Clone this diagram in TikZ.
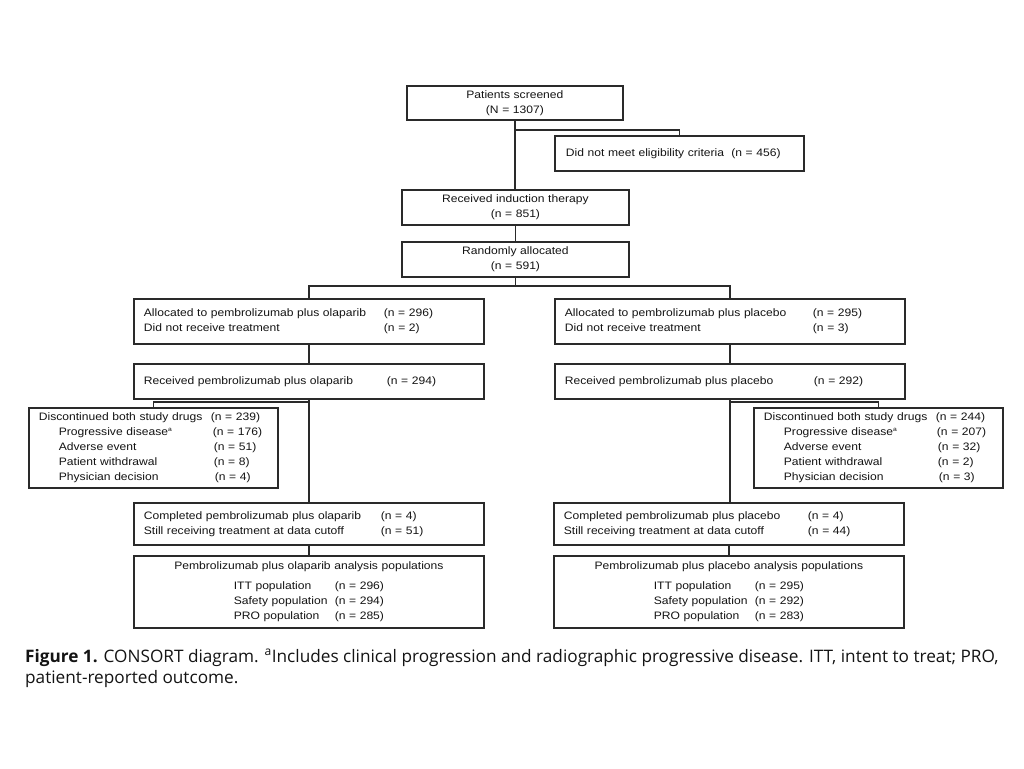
\documentclass[tikz,border=0pt]{standalone}
\usepackage{fontspec}
\setmainfont[FakeStretch=1.12]{Liberation Sans}
\newfontfamily\capfont{Open Sans}
\definecolor{lineclr}{HTML}{2A2A2A}
\definecolor{txtclr}{HTML}{141414}
\newcommand{\rw}[3]{\makebox[#1][l]{#2}#3}
\begin{document}
\begin{tikzpicture}[x=1pt,y=-1pt,
  box/.style={draw=lineclr, line width=1.8pt, anchor=north west, inner xsep=10pt, inner ysep=0pt,
    text=txtclr, font=\fontsize{10.8}{15}\selectfont, align=left},
  cbox/.style={box, align=center},
  conn/.style={draw=lineclr, line width=1.8pt}]
\useasboundingbox (0,0) rectangle (1024,768);
\fill[white] (0,0) rectangle (1024,768);

% top chain
\node[cbox, text width=196pt, minimum height=34pt] (screen) at (406,85) {Patients screened\\(N = 1307)};
\node[box, text width=229pt, minimum height=35pt] (elig) at (554,135) {\hspace*{1pt}Did not meet eligibility criteria~ (n = 456)};
\node[cbox, text width=207pt, minimum height=35pt] (induct) at (401,189) {Received induction therapy\\(n = 851)};
\node[cbox, text width=207pt, minimum height=35pt] (rand) at (401,241) {Randomly allocated\\(n = 591)};

% left arm
\node[box, text width=330pt, minimum height=45pt] (allocL) at (133,298)
  {\rw{240pt}{Allocated to pembrolizumab plus olaparib}{(n = 296)}\\\rw{240pt}{Did not receive treatment}{(n = 2)}};
\node[box, text width=330pt, minimum height=35pt] (recL) at (133,363)
  {\rw{243pt}{Received pembrolizumab plus olaparib}{(n = 294)}};
\node[box, text width=229pt, minimum height=80pt] (discL) at (28,407)
  {\rw{172pt}{Discontinued both study drugs}{(n = 239)}\\
   \hspace*{20pt}\rw{154pt}{Progressive disease\textsuperscript{\fontsize{6}{6}\selectfont a}}{(n = 176)}\\
   \hspace*{20pt}\rw{155pt}{Adverse event}{(n = 51)}\\
   \hspace*{20pt}\rw{155pt}{Patient withdrawal}{(n = 8)}\\
   \hspace*{20pt}\rw{156pt}{Physician decision}{(n = 4)}};
\node[box, text width=330pt, minimum height=42pt] (compL) at (133,502)
  {\rw{237pt}{Completed pembrolizumab plus olaparib}{(n = 4)}\\\rw{237pt}{Still receiving treatment at data cutoff}{(n = 51)}};
\node[cbox, text width=330pt, minimum height=72pt] (anaL) at (133,555)
  {Pembrolizumab plus olaparib analysis populations\\[5pt]
   \rw{101pt}{ITT population}{(n = 296)}\\
   \rw{101pt}{Safety population}{(n = 294)}\\
   \rw{101pt}{PRO population}{(n = 285)}};

% right arm
\node[box, text width=330pt, minimum height=45pt] (allocR) at (554,298)
  {\rw{248pt}{Allocated to pembrolizumab plus placebo}{(n = 295)}\\\rw{248pt}{Did not receive treatment}{(n = 3)}};
\node[box, text width=330pt, minimum height=35pt] (recR) at (554,363)
  {\rw{249pt}{Received pembrolizumab plus placebo}{(n = 292)}};
\node[box, text width=229pt, minimum height=80pt] (discR) at (753,407)
  {\rw{172pt}{Discontinued both study drugs}{(n = 244)}\\
   \hspace*{20pt}\rw{153pt}{Progressive disease\textsuperscript{\fontsize{6}{6}\selectfont a}}{(n = 207)}\\
   \hspace*{20pt}\rw{154pt}{Adverse event}{(n = 32)}\\
   \hspace*{20pt}\rw{154pt}{Patient withdrawal}{(n = 2)}\\
   \hspace*{20pt}\rw{155pt}{Physician decision}{(n = 3)}};
\node[box, text width=330pt, minimum height=42pt] (compR) at (553,502)
  {\rw{244pt}{Completed pembrolizumab plus placebo}{(n = 4)}\\\rw{244pt}{Still receiving treatment at data cutoff}{(n = 44)}};
\node[cbox, text width=330pt, minimum height=72pt] (anaR) at (553,555)
  {Pembrolizumab plus placebo analysis populations\\[5pt]
   \rw{101pt}{ITT population}{(n = 295)}\\
   \rw{101pt}{Safety population}{(n = 292)}\\
   \rw{101pt}{PRO population}{(n = 283)}};

% connectors
\coordinate (b1) at (screen.south |- 0,130);
\coordinate (b2) at (rand.south |- 0,286);
\coordinate (b3L) at (recL.south |- 0,402);
\coordinate (b3R) at (recR.south |- 0,402);
\draw[conn] (screen.south) -- (screen.south |- induct.north);
\draw[conn] (b1) -| (elig.north);
\draw[conn] (induct.south) -- (rand.north);
\draw[conn] (rand.south) -- (b2);
\draw[conn] (b2) -| (allocL.north);
\draw[conn] (b2) -| (allocR.north);
\draw[conn] (allocL.south) -- (recL.north);
\draw[conn] (allocR.south) -- (recR.north);
\draw[conn] (recL.south) -- (compL.north);
\draw[conn] (recR.south) -- (recR.south |- compR.north);
\draw[conn] (b3L) -| (discL.north);
\draw[conn] (b3R) -| (discR.north);
\draw[conn] (compL.south) -- (anaL.north);
\draw[conn] (compR.south) -- (anaR.north);

% caption
\node[anchor=base west, inner sep=0pt, align=left, text=txtclr,
  font=\capfont\fontsize{17.2}{21}\selectfont] (cap) at (25,683)
  {\textbf{Figure 1.} CONSORT diagram. \textsuperscript{a}Includes clinical progression and radiographic progressive disease. ITT, intent to treat; PRO,\\patient-reported outcome.};
\end{tikzpicture}
\end{document}
